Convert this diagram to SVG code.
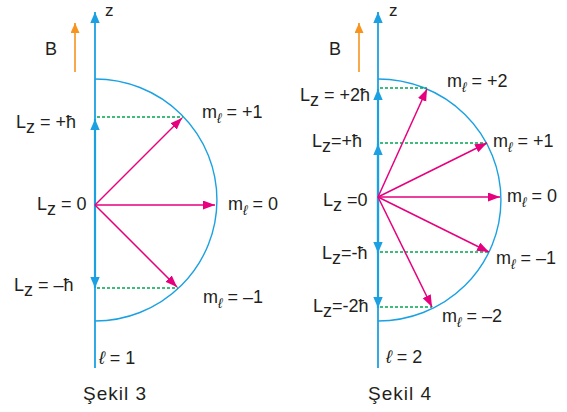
<svg xmlns="http://www.w3.org/2000/svg" width="567" height="412" viewBox="0 0 567 412">
<defs>
<style>
text{font-family:"Liberation Sans",Arial,"DejaVu Sans",sans-serif;font-size:18px;fill:#231f20}
.sub{font-size:14px;font-style:italic}
.ell{font-style:italic}
.cap{font-size:19px}
.zl{font-size:17px}
.axis{stroke:#1ba1e2;stroke-width:1.8;fill:none}
.lz{stroke:#1ba1e2;stroke-width:2.2;fill:none;marker-end:url(#hc)}
.arc{stroke:#1ba1e2;stroke-width:1.4;fill:none}
.vec{stroke:#e6007e;stroke-width:1.5;fill:none;marker-end:url(#hm)}
.dot{stroke:#00a651;stroke-width:1.3;stroke-dasharray:3 2;fill:none}
.b{stroke:#f7941e;stroke-width:1.6;fill:none;marker-end:url(#ho)}
</style>
<marker id="hm" markerUnits="userSpaceOnUse" markerWidth="13" markerHeight="10" refX="12" refY="4.5" orient="auto"><path d="M0,0 L12,4.5 L0,9 Z" fill="#e6007e"/></marker>
<marker id="hc" markerUnits="userSpaceOnUse" markerWidth="12" markerHeight="10" refX="11" refY="4.7" orient="auto"><path d="M0,0 L11,4.7 L0,9.4 Z" fill="#1ba1e2"/></marker>
<marker id="ho" markerUnits="userSpaceOnUse" markerWidth="12" markerHeight="10" refX="10" refY="4.5" orient="auto"><path d="M0,0 L10,4.5 L0,9 Z" fill="#f7941e"/></marker>
</defs>

<g id="sekil3">
<path class="arc" d="M95,79 A122,121 0 0 1 95,321"/>
<text class="zl" x="105" y="16">z</text>
<text x="45" y="55">B</text>
<text x="16" y="128">L<tspan dy="5">z</tspan><tspan dy="-5"> = +ħ</tspan></text>
<text x="37" y="210">L<tspan dy="5">z</tspan><tspan dy="-5"> = 0</tspan></text>
<text x="14" y="291">L<tspan dy="5">z</tspan><tspan dy="-5"> = –ħ</tspan></text>
<text x="202" y="118">m<tspan class="sub" dy="5">ℓ</tspan><tspan dy="-5"> = +1</tspan></text>
<text x="228" y="210">m<tspan class="sub" dy="5">ℓ</tspan><tspan dy="-5"> = 0</tspan></text>
<text x="203" y="303">m<tspan class="sub" dy="5">ℓ</tspan><tspan dy="-5"> = –1</tspan></text>
<text x="99" y="364"><tspan class="ell">ℓ</tspan> = 1</text>
<text class="cap" x="83" y="400" textLength="63" lengthAdjust="spacing">Şekil 3</text>
</g>

<g id="sekil4">
<path class="arc" d="M378,79 A123,121 0 0 1 378,321"/>
<text class="zl" x="389" y="16">z</text>
<text x="329" y="55">B</text>
<text x="300" y="101">L<tspan dy="5">z</tspan><tspan dy="-5"> = +2ħ</tspan></text>
<text x="312" y="147">L<tspan dy="5">z</tspan><tspan dy="-5">=+ħ</tspan></text>
<text x="323" y="206">L<tspan dy="5">z</tspan><tspan dy="-5"> =0</tspan></text>
<text x="322" y="259">L<tspan dy="5">z</tspan><tspan dy="-5">=-ħ</tspan></text>
<text x="313" y="312">L<tspan dy="5">z</tspan><tspan dy="-5">=-2ħ</tspan></text>
<text x="447" y="87">m<tspan class="sub" dy="5">ℓ</tspan><tspan dy="-5"> = +2</tspan></text>
<text x="493" y="147">m<tspan class="sub" dy="5">ℓ</tspan><tspan dy="-5"> = +1</tspan></text>
<text x="507" y="202">m<tspan class="sub" dy="5">ℓ</tspan><tspan dy="-5"> = 0</tspan></text>
<text x="496" y="264">m<tspan class="sub" dy="5">ℓ</tspan><tspan dy="-5"> = –1</tspan></text>
<text x="442" y="322">m<tspan class="sub" dy="5">ℓ</tspan><tspan dy="-5"> = –2</tspan></text>
<text x="386" y="363"><tspan class="ell">ℓ</tspan> = 2</text>
<text class="cap" x="368" y="400" textLength="63" lengthAdjust="spacing">Şekil 4</text>
</g>

<g id="connectors">
<line class="axis" x1="95" y1="368" x2="95" y2="12" style="marker-end:url(#hc)"/>
<line class="axis" x1="378" y1="368" x2="378" y2="12" style="marker-end:url(#hc)"/>
<line class="b" x1="75" y1="72" x2="75" y2="23"/>
<line class="b" x1="359" y1="72" x2="359" y2="23"/>
<line class="lz" x1="95" y1="205" x2="95" y2="119"/>
<line class="lz" x1="95" y1="205" x2="95" y2="288"/>
<line class="lz" x1="378" y1="197" x2="378" y2="89"/>
<line class="lz" x1="378" y1="197" x2="378" y2="308"/>
<line class="lz" x1="378" y1="197" x2="378" y2="144"/>
<line class="lz" x1="378" y1="197" x2="378" y2="253"/>
<line class="dot" x1="97" y1="117" x2="183" y2="117"/>
<line class="dot" x1="97" y1="288" x2="178" y2="288"/>
<line class="dot" x1="380" y1="88" x2="427" y2="88"/>
<line class="dot" x1="380" y1="143" x2="487" y2="143"/>
<line class="dot" x1="380" y1="252" x2="489" y2="252"/>
<line class="dot" x1="380" y1="307" x2="432" y2="307"/>
<line class="vec" x1="95" y1="205" x2="182" y2="118"/>
<line class="vec" x1="95" y1="205" x2="215" y2="205"/>
<line class="vec" x1="95" y1="205" x2="177" y2="287"/>
<line class="vec" x1="378" y1="197" x2="427" y2="89"/>
<line class="vec" x1="378" y1="197" x2="487" y2="143"/>
<line class="vec" x1="378" y1="197" x2="500" y2="197"/>
<line class="vec" x1="378" y1="197" x2="489" y2="252"/>
<line class="vec" x1="378" y1="197" x2="432" y2="307"/>
</g>
</svg>
